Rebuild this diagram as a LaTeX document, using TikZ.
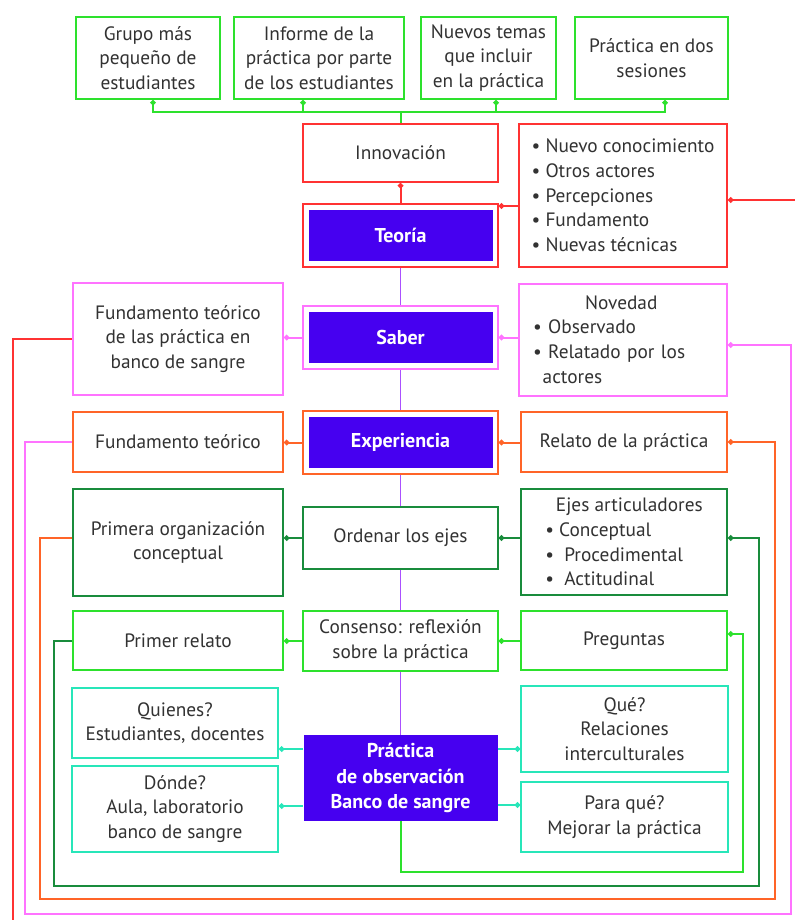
\documentclass[tikz,border=0pt]{standalone}
\usepackage{fontspec}
\setmainfont{PT Sans}
\usepackage{tikz}
\usetikzlibrary{arrows.meta}

\definecolor{cLime}{RGB}{45,225,45}
\definecolor{cRed}{RGB}{255,50,50}
\definecolor{cPink}{RGB}{255,115,255}
\definecolor{cOrange}{RGB}{255,100,40}
\definecolor{cDkGreen}{RGB}{25,140,60}
\definecolor{cAqua}{RGB}{40,230,185}
\definecolor{cViolet}{RGB}{170,80,255}
\definecolor{cHub}{RGB}{70,0,240}
\definecolor{cText}{RGB}{50,50,50}

\tikzset{
  box/.style = {draw, line width=1.5pt, fill=white, text=cText, align=center, inner sep=2pt, font=\fontsize{14.5}{18.5}\selectfont},
  frame/.style = {draw, line width=1.5pt, fill=white, minimum width=146pt, minimum height=47pt},
  hub/.style = {fill=cHub, text=white, align=center, minimum width=138pt, minimum height=38pt, font=\bfseries\fontsize{15}{19}\selectfont},
  link/.style = {line width=1.5pt, -{Circle[length=4pt]}},
  bare/.style = {line width=1.5pt},
}

\begin{document}
\begin{tikzpicture}[x=0.75pt, y=-0.75pt]
\useasboundingbox (0,0) rectangle (795,920);

\node[box, draw=cLime, minimum width=108pt, minimum height=61.5pt] (grupo) at (148,58) {Grupo más\\pequeño de\\estudiantes};
\node[box, draw=cLime, minimum width=127.5pt, minimum height=61.5pt] (informe) at (319,58) {Informe de la\\práctica por parte\\de los estudiantes};
\node[box, draw=cLime, minimum width=101pt, minimum height=61.5pt] (temas) at (488.5,58) {Nuevos temas\\que incluir\\en la práctica};
\node[box, draw=cLime, minimum width=115pt, minimum height=61.5pt] (sesiones) at (651.5,58) {Práctica en dos\\sesiones};

\node[box, draw=cRed, minimum width=146pt, minimum height=43.5pt] (inno) at (400.5,153) {Innovación};
\node[box, draw=cRed, minimum width=156pt, minimum height=107pt, align=left] (nuevo) at (623,195.5) {• Nuevo conocimiento\\• Otros actores\\• Percepciones\\• Fundamento\\• Nuevas técnicas};
\node[frame, draw=cRed] (teoriaF) at (400.5,235.5) {};
\node[hub] (teoria) at (teoriaF) {Teoría};

\node[box, draw=cPink, minimum width=157.5pt, minimum height=84pt] (fundsangre) at (178,339) {Fundamento teórico\\de las práctica en\\banco de sangre};
\node[frame, draw=cPink] (saberF) at (400.5,337.5) {};
\node[hub] (saber) at (saberF) {Saber};
\node[box, draw=cPink, minimum width=156pt, minimum height=84pt, text width=135pt, align=left] (novedad) at (623,339.5) {\hspace*{39pt}Novedad\\• Observado\\• Relatado por los\\\hspace*{0.5em}actores};

\node[box, draw=cOrange, minimum width=157.5pt, minimum height=45pt] (fundteo) at (178,442) {Fundamento teórico};
\node[frame, draw=cOrange] (expF) at (400.5,442.5) {};
\node[hub] (exp) at (expF) {Experiencia};
\node[box, draw=cOrange, minimum width=154.5pt, minimum height=45pt] (relato) at (624,442) {Relato de la práctica};

\node[box, draw=cDkGreen, minimum width=157.5pt, minimum height=80pt] (primera) at (178,542.5) {Primera organización\\conceptual};
\node[box, draw=cDkGreen, minimum width=146pt, minimum height=46.5pt] (ordenar) at (400.5,538) {Ordenar los ejes};
\node[box, draw=cDkGreen, minimum width=154.5pt, minimum height=79.5pt, align=left] (ejes) at (624,542) {\hspace*{8pt}Ejes articuladores\\• Conceptual\\•\ \ Procedimental\\•\ \ Actitudinal};

\node[box, draw=cLime, minimum width=157.5pt, minimum height=44.5pt] (primer) at (178,640.5) {Primer relato};
\node[box, draw=cLime, minimum width=146pt, minimum height=45pt] (consenso) at (400.5,641) {Consenso: reflexión\\sobre la práctica};
\node[box, draw=cLime, minimum width=154.5pt, minimum height=44.5pt] (preguntas) at (624,640.5) {Preguntas};

\node[box, draw=cAqua, minimum width=154.5pt, minimum height=52.5pt] (quienes) at (175,723) {Quienes?\\Estudiantes, docentes};
\node[box, draw=cAqua, minimum width=154.5pt, minimum height=64.5pt] (donde) at (175,809) {Dónde?\\Aula, laboratorio\\banco de sangre};
\node[hub, minimum width=145.5pt, minimum height=64.5pt] (practica) at (400.5,778) {Práctica\\de observación\\Banco de sangre};
\node[box, draw=cAqua, minimum width=155pt, minimum height=64.5pt] (que) at (624.5,729) {Qué?\\Relaciones\\interculturales};
\node[box, draw=cAqua, minimum width=155pt, minimum height=52.5pt] (paraque) at (624.5,817) {Para qué?\\Mejorar la práctica};

\foreach \a/\b in {teoriaF/saberF, saberF/expF, expF/ordenar, ordenar/consenso, consenso/practica}
  \draw[color=cViolet, line width=1.2pt] (\a.south) -- (\b.north);

\coordinate (bus) at (400.5,112);
\draw[bare, color=cLime] (inno.north) -- (bus);
\foreach \n/\x in {grupo/153, informe/303, temas/496, sesiones/665}
  \draw[link, color=cLime] (bus) -| (\x,0 |- \n.south);

\draw[link, color=cRed] (teoriaF.north) -- (inno.south);
\draw[link, color=cRed] (nuevo.west |- 0,206) -- (teoriaF.east |- 0,206);
\draw[link, color=cRed] (795,200) -- (nuevo.east |- 0,200);
\draw[bare, color=cRed] (fundsangre.west) -| (13,920);

\draw[link, color=cPink] (saberF.west) -- (fundsangre.east |- saberF.west);
\draw[link, color=cPink] (novedad.west |- saberF) -- (saberF.east);
\draw[link, color=cPink] (fundteo.west) -| (25,914) -| (791,345) -- (novedad.east |- 0,345);

\draw[link, color=cOrange] (expF.west) -- (fundteo.east |- expF.west);
\draw[link, color=cOrange] (relato.west |- expF) -- (expF.east);
\draw[link, color=cOrange] (primera.west |- 0,538) -| (40,899) -| (775,442) -- (relato.east);

\draw[link, color=cDkGreen] (ordenar.west) -- (primera.east |- ordenar.west);
\draw[link, color=cDkGreen] (ejes.west |- ordenar) -- (ordenar.east);
\draw[link, color=cDkGreen] (primer.west) -| (54,886) -| (759,538) -- (ejes.east |- 0,538);

\draw[link, color=cLime] (consenso.west) -- (primer.east |- consenso.west);
\draw[link, color=cLime] (preguntas.west |- consenso) -- (consenso.east);
\draw[link, color=cLime] (practica.south) |- (743,872) |- (preguntas.east |- 0,634);

\draw[link, color=cAqua] (practica.west |- 0,749) -- (quienes.east |- 0,749);
\draw[link, color=cAqua] (practica.west |- 0,806) -- (donde.east |- 0,806);
\draw[link, color=cAqua] (practica.east |- 0,749) -- (que.west |- 0,749);
\draw[link, color=cAqua] (practica.east |- 0,805) -- (paraque.west |- 0,805);

\end{tikzpicture}
\end{document}
